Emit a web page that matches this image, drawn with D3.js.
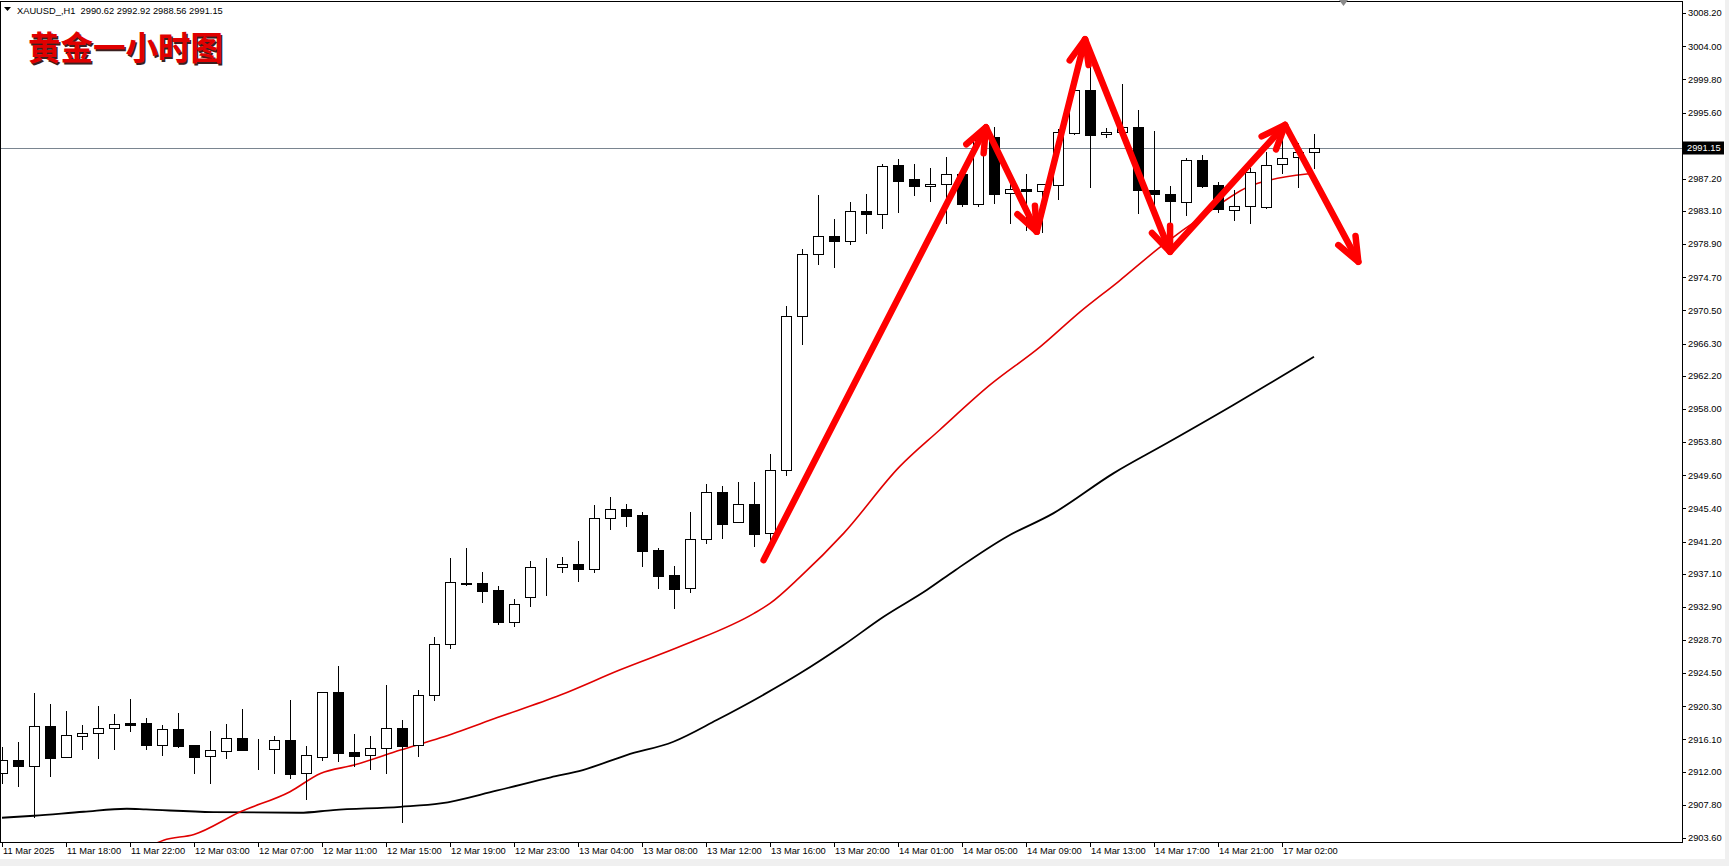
<!DOCTYPE html>
<html><head><meta charset="utf-8">
<script src="https://cdn.jsdelivr.net/npm/d3@7"></script>
<style>
html,body{margin:0;padding:0;background:#fff;overflow:hidden}
svg{display:block}
text{font-family:"Liberation Sans",Arial,sans-serif}
</style></head>
<body>
<svg id="c" width="1729" height="866"></svg>
<script>
// ---------- DATA ----------
const symbolHeader = "XAUUSD_,H1  2990.62 2992.92 2988.56 2991.15";
const titleText = "黄金一小时图";
const currentPrice = 2991.15;
const currentPriceLabel = "2991.15";

const opens = [2911.79,2913.48,2912.76,2917.79,2913.82,2916.57,2916.86,2917.50,2918.17,2918.17,
2915.34,2917.41,2915.38,2913.95,2914.58,2916.23,2914.83,2914.83,2916.02,2911.79,
2913.90,2922.06,2914.50,2914.07,2914.96,2917.50,2915.34,2921.72,2928.15,2935.97,
2935.89,2935.04,2931.03,2934.11,2937.92,2937.92,2938.38,2937.66,2944.13,2945.27,
2944.55,2940.12,2936.94,2935.25,2941.47,2947.43,2943.62,2945.95,2942.23,2950.22,
2969.76,2977.62,2979.90,2979.27,2983.07,2982.69,2988.95,2987.13,2986.28,2986.50,
2987.76,2983.96,2992.46,2985.44,2985.86,2985.61,2986.37,2992.96,2998.42,2992.84,
2993.09,2993.73,2985.74,2985.23,2984.30,2989.58,2986.37,2983.24,2983.79,2983.58,
2989.03,2989.92,2990.62];
const highs = [2915.09,2915.76,2922.02,2920.58,2919.70,2917.92,2920.33,2919.31,2921.22,2918.81,
2917.92,2919.48,2915.38,2917.16,2918.05,2919.95,2916.10,2916.52,2921.09,2915.26,
2922.06,2925.40,2916.74,2916.48,2922.99,2918.55,2922.36,2929.12,2939.14,2940.41,
2937.33,2935.55,2933.86,2938.72,2939.06,2939.18,2941.26,2945.82,2946.84,2945.95,
2944.89,2940.33,2938.09,2944.93,2948.49,2948.23,2948.70,2948.70,2952.29,2971.11,
2978.30,2985.14,2982.10,2984.26,2985.27,2989.08,2989.71,2989.08,2988.61,2989.96,
2988.30,2993.00,2993.73,2986.54,2987.76,2986.60,2993.50,2998.90,3003.00,2993.60,
2999.22,2995.93,2993.26,2986.29,2989.80,2990.22,2986.84,2985.78,2988.53,2990.64,
2992.12,2991.70,2992.92];
const lows = [2910.52,2910.23,2906.29,2911.45,2913.82,2914.88,2913.78,2914.92,2917.20,2914.92,
2914.11,2915.17,2911.87,2910.61,2913.78,2914.79,2912.38,2911.87,2911.24,2908.49,
2913.48,2913.40,2912.72,2912.38,2911.87,2905.66,2913.99,2921.09,2927.64,2935.68,
2933.56,2930.69,2930.52,2933.06,2934.45,2937.37,2936.23,2937.28,2942.78,2943.20,
2938.09,2935.34,2932.80,2934.83,2941.05,2941.68,2943.62,2940.66,2941.17,2949.63,
2966.20,2976.35,2976.05,2978.89,2980.37,2981.00,2983.03,2985.19,2984.42,2981.55,
2983.79,2983.79,2984.17,2981.63,2980.70,2980.41,2984.68,2992.84,2986.20,2992.50,
2992.60,2982.90,2982.50,2981.00,2982.61,2986.20,2983.03,2981.97,2981.55,2983.45,
2987.90,2986.20,2988.56];
const closes = [2913.48,2912.72,2917.75,2913.78,2916.61,2916.90,2917.50,2918.00,2917.96,2915.43,
2917.37,2915.26,2913.90,2914.71,2916.23,2914.79,2914.85,2916.02,2911.75,2914.07,
2922.06,2914.41,2914.03,2914.96,2917.50,2915.26,2921.72,2928.15,2936.01,2935.84,
2934.96,2931.03,2933.22,2937.92,2937.92,2938.38,2937.66,2944.13,2945.36,2944.47,
2940.03,2936.86,2935.21,2941.47,2947.43,2943.46,2945.91,2942.19,2950.22,2969.76,
2977.62,2979.90,2979.27,2983.07,2982.69,2988.78,2986.96,2986.24,2986.54,2987.76,
2983.96,2992.12,2985.23,2985.86,2985.69,2986.50,2993.09,2998.42,2992.75,2993.09,
2993.73,2985.74,2985.23,2984.43,2989.58,2986.29,2983.33,2983.79,2988.02,2988.91,
2989.80,2990.56,2991.15];

// moving averages: [bar position, value]
const redMA = [[9,2902.3],[10.1,2903.33],[12,2904.05],[14.9,2906.93],[18,2909.47],[19.9,2911.79],
[22,2912.85],[24.9,2914.75],[27.4,2916.31],[31,2918.9],[34.9,2921.73],[38.6,2924.90],[42.6,2928.07],
[47,2932.09],[48,2933.35],[49.9,2936.74],[52.6,2942.23],[56.1,2950.69],[58.6,2955.34],[61.75,2961.05],
[64.9,2965.91],[67.4,2970.35],[69.8,2974.2],[72.3,2978.4],[75.3,2982.82],[78,2986.29],[79.25,2987.05],
[81.55,2987.81],[82,2987.9]];
const blackMA = [[0,2906.17],[2,2906.42],[5.1,2906.93],[7.8,2907.31],[9,2907.22],[13.2,2906.89],
[18.6,2906.80],[20.7,2907.14],[24.9,2907.56],[27.4,2907.98],[30.9,2909.6],[34.3,2911.3],[36.3,2912.22],
[39.04,2914.12],[41.96,2915.81],[44.67,2918.56],[47.38,2921.52],[49.88,2924.48],[52.6,2928.07],
[55.1,2931.66],[57.8,2935.05],[59.6,2937.6],[62.8,2941.81],[65.7,2944.77],[69.46,2949.84],
[72.79,2953.65],[76.96,2958.51],[80.29,2962.53],[82,2964.64]];

// hand-drawn zigzag arrows: [bar position, price]
const arrowPoints = [[47.6,2938.84],[61.5,2993.73],[64.67,2980.49],[67.69,3004.89],[73.0,2977.95],[80.19,2994.02],[84.77,2976.68]];

const priceTicks = ["3008.20","3004.00","2999.80","2995.60","2987.20","2983.10","2978.90","2974.70",
"2970.50","2966.30","2962.20","2958.00","2953.80","2949.60","2945.40","2941.20","2937.10","2932.90",
"2928.70","2924.50","2920.30","2916.10","2912.00","2907.80","2903.60"];
const timeLabels = ["11 Mar 2025","11 Mar 18:00","11 Mar 22:00","12 Mar 03:00","12 Mar 07:00","12 Mar 11:00",
"12 Mar 15:00","12 Mar 19:00","12 Mar 23:00","13 Mar 04:00","13 Mar 08:00","13 Mar 12:00","13 Mar 16:00",
"13 Mar 20:00","14 Mar 01:00","14 Mar 05:00","14 Mar 09:00","14 Mar 13:00","14 Mar 17:00","14 Mar 21:00",
"17 Mar 02:00"];
const barsPerLabel = 4;

// ---------- LAYOUT ----------
const W = 1729, H = 866;
const plotRight = 1682, plotBottom = 842, plotTop = 1;
const svg = d3.select("#c");
const x = d3.scaleLinear().domain([0, 82]).range([2, 1314]);
const y = d3.scaleLinear().domain([2903.60, 3008.20]).range([838, 13.2]);

// strips
svg.append("rect").attr("x",0).attr("y",859).attr("width",W).attr("height",H-859).attr("fill","#f0f0f0");
svg.append("rect").attr("x",1725).attr("y",0).attr("width",4).attr("height",H).attr("fill","#f0f0f0");

svg.append("defs").append("clipPath").attr("id","clip").append("rect")
  .attr("x",0).attr("y",plotTop).attr("width",plotRight).attr("height",plotBottom-plotTop);

const plot = svg.append("g").attr("clip-path","url(#clip)");

// current price line
plot.append("line").attr("x1",0).attr("x2",plotRight)
  .attr("y1",Math.round(y(currentPrice))+0.5).attr("y2",Math.round(y(currentPrice))+0.5)
  .attr("stroke","#7a8590").attr("stroke-width",1);

// moving averages
const maLine = d3.line().x(d=>x(d[0])).y(d=>y(d[1])).curve(d3.curveMonotoneX);
plot.append("path").attr("d",maLine(blackMA)).attr("fill","none").attr("stroke","#000").attr("stroke-width",1.8);
plot.append("path").attr("d",maLine(redMA)).attr("fill","none").attr("stroke","#e00000").attr("stroke-width",1.6);

// candles
const idx = d3.range(opens.length);
const cg = plot.append("g").attr("shape-rendering","crispEdges");
cg.selectAll("line.w").data(idx).join("line").attr("class","w")
  .attr("x1",i=>Math.round(x(i))+0.5).attr("x2",i=>Math.round(x(i))+0.5)
  .attr("y1",i=>Math.round(y(highs[i]))).attr("y2",i=>Math.round(y(lows[i]))+1)
  .attr("stroke","#000").attr("stroke-width",1);
cg.selectAll("rect.b").data(idx).join("rect").attr("class","b")
  .attr("x",i=>Math.round(x(i))-5+0.5)
  .attr("y",i=>Math.round(y(Math.max(opens[i],closes[i])))+0.5)
  .attr("width",10)
  .attr("height",i=>Math.max(0,Math.round(y(Math.min(opens[i],closes[i])))-Math.round(y(Math.max(opens[i],closes[i])))))
  .attr("fill",i=>closes[i]>=opens[i]?"#fff":"#000")
  .attr("stroke","#000").attr("stroke-width",1);

// arrows
const ag = plot.append("g").attr("fill","none").attr("stroke","#f00").attr("stroke-width",6.5)
  .attr("stroke-linecap","round").attr("stroke-linejoin","round");
const headLen = 26, headAng = 22*Math.PI/180;
for (let k=0;k<arrowPoints.length-1;k++){
  const p0=[x(arrowPoints[k][0]),y(arrowPoints[k][1])];
  const p1=[x(arrowPoints[k+1][0]),y(arrowPoints[k+1][1])];
  ag.append("path").attr("d",d3.line()([p0,p1]));
  const a=Math.atan2(p0[1]-p1[1],p0[0]-p1[0]);
  const l=[p1[0]+headLen*Math.cos(a+headAng),p1[1]+headLen*Math.sin(a+headAng)];
  const r=[p1[0]+headLen*Math.cos(a-headAng),p1[1]+headLen*Math.sin(a-headAng)];
  ag.append("path").attr("d",d3.line()([l,p1,r]));
}

// borders
const bg = svg.append("g").attr("shape-rendering","crispEdges").attr("stroke","#000").attr("stroke-width",1);
bg.append("line").attr("x1",0).attr("x2",plotRight).attr("y1",plotTop+0.5).attr("y2",plotTop+0.5);
bg.append("line").attr("x1",0.5).attr("x2",0.5).attr("y1",plotTop).attr("y2",plotBottom);
bg.append("line").attr("x1",plotRight+0.5).attr("x2",plotRight+0.5).attr("y1",plotTop).attr("y2",plotBottom+1);
bg.append("line").attr("x1",0).attr("x2",plotRight+1).attr("y1",plotBottom+0.5).attr("y2",plotBottom+0.5);

// price axis
const ya = svg.append("g");
ya.selectAll("line").data(priceTicks).join("line")
  .attr("x1",plotRight).attr("x2",plotRight+4)
  .attr("y1",d=>Math.round(y(+d))+0.5).attr("y2",d=>Math.round(y(+d))+0.5)
  .attr("stroke","#000").attr("shape-rendering","crispEdges");
ya.selectAll("text").data(priceTicks).join("text")
  .attr("x",plotRight+6).attr("y",d=>y(+d)).attr("dy","0.35em")
  .attr("font-size",9.3).attr("fill","#000").text(d=>d);
// current price label
const cy = y(currentPrice);
svg.append("rect").attr("x",plotRight+1).attr("y",Math.round(cy)-6.5).attr("width",41).attr("height",13).attr("fill","#000");
svg.append("text").attr("x",plotRight+5).attr("y",cy).attr("dy","0.35em").attr("font-size",9.3)
  .attr("fill","#fff").text(currentPriceLabel);

// time axis
const xa = svg.append("g");
xa.selectAll("line").data(timeLabels).join("line")
  .attr("x1",(d,i)=>Math.round(x(i*barsPerLabel))+0.5).attr("x2",(d,i)=>Math.round(x(i*barsPerLabel))+0.5)
  .attr("y1",plotBottom).attr("y2",plotBottom+5).attr("stroke","#000").attr("shape-rendering","crispEdges");
xa.selectAll("text").data(timeLabels).join("text")
  .attr("x",(d,i)=>x(i*barsPerLabel)+1).attr("y",854)
  .attr("font-size",9.3).attr("fill","#000").text(d=>d);

// shift marker triangle
svg.append("path").attr("d","M1339,0 L1348,0 L1343.5,6 Z").attr("fill","#8a8a8a");

// header
svg.append("path").attr("d","M4,7 L11,7 L7.5,11 Z").attr("fill","#000");
svg.append("text").attr("x",17).attr("y",13.5).attr("font-size",9.3).attr("fill","#000")
  .attr("xml:space","preserve").style("white-space","pre").text(symbolHeader);

// title with shadow
const tf = '"Noto Sans CJK SC","Noto Sans CJK TC",sans-serif';
svg.append("text").attr("x",29.5).attr("y",61.5).attr("font-size",32.5).attr("font-weight",700)
  .style("font-family",tf).attr("fill","#3a2020").text(titleText);
svg.append("text").attr("x",28).attr("y",60).attr("font-size",32.5).attr("font-weight",700)
  .style("font-family",tf).attr("fill","#e00000").text(titleText);
</script>
</body></html>
